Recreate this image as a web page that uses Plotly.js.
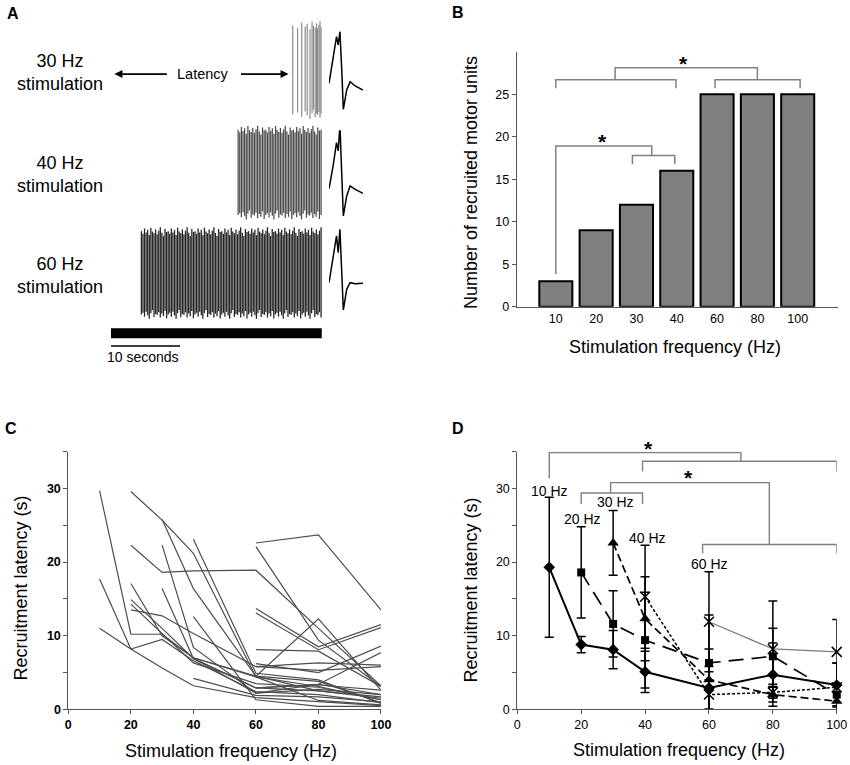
<!DOCTYPE html>
<html>
<head>
<meta charset="utf-8">
<script src="https://cdn.plot.ly/plotly-3.0.1.min.js"></script>
<style>html,body{margin:0;padding:0;background:#fff}#chart{width:850px;height:765px}</style>
</head>
<body>
<div id="chart"></div>
<script>
// ---------------- DATA ----------------
const FONT = "Arial, 'Liberation Sans', sans-serif";

// Panel A: example recordings
const trainLabels = ['30 Hz<br>stimulation', '40 Hz<br>stimulation', '60 Hz<br>stimulation'];
const stimDurationSec = 30.5;
const scaleBarSec = 10;
const spikeTimes30Hz = [26.3, 27.0, 27.6, 28.1, 28.4, 28.8, 29.1, 29.3, 29.55, 29.75, 29.9, 30.1, 30.25, 30.4];
const trainOnsetSec = [26.3, 18.4, 4.4];
const trainEndSec = 30.4;
const trainSpikeCount = [14, 52, 115];
const spikeAmpPattern = [0.96, 0.9, 1.02, 0.93, 0.99, 0.87, 1.04, 0.95, 0.91, 1.0, 0.89, 0.97, 1.05, 0.92, 0.85, 1.01, 0.94];
const waveT = [0, 1.2, 2.2, 2.7, 3.2, 3.7, 4.2, 5.2, 6.2, 7.7, 10];
const wave30 = [0, 0.7, 1.4, 1.15, 1.55, 0.5, -0.78, -0.2, 0.05, -0.08, -0.2];
const wave40 = [0, 0.68, 1.38, 1.13, 1.9, 0.48, -0.82, -0.22, 0.08, -0.02, -0.14];
const wave60 = [0, 0.7, 1.4, 0.9, 1.6, 0.4, -0.82, -0.2, 0, -0.03, -0.02];

// Panel B: number of recruited motor units
const bCategories = ['10', '20', '30', '40', '60', '80', '100'];
const bUnits = [3, 9, 12, 16, 25, 25, 25];

// Panel C: recruitment latency of each motor unit
const cFreqs = [10, 20, 30, 40, 60, 80, 100];
const cRecruitFreq = [10, 10, 10, 20, 20, 20, 20, 20, 20, 30, 30, 30, 40, 40, 40, 40, 60, 60, 60, 60, 60, 60, 60, 60, 60];
const cLatency = [
  [29.7, 10.2, 10.2, 7.0, 4.4, 3.1, 1.3],
  [17.7, 8.2, 9.5, 6.6, 2.4, 2.0, 0.9],
  [11.0, 8.2, 5.6, 3.2, 1.6, 1.0, 0.5],
  [29.6, 25.7, 21.2, 4.4, 1.2, 0.6],
  [22.3, 18.6, 18.8, 18.9, 11.0, 3.2],
  [17.1, 10.0, 7.0, 4.5, 2.5, 1.5],
  [14.9, 11.0, 6.9, 2.9, 3.3, 2.6],
  [14.3, 10.3, 6.3, 3.5, 3.0, 1.3],
  [13.5, 12.7, 10.3, 5.8, 5.3, 5.8],
  [25.8, 16.4, 4.5, 3.8, 0.9],
  [22.3, 8.4, 2.2, 3.4, 2.0],
  [16.4, 6.9, 2.9, 2.5, 1.7],
  [23.1, 4.9, 4.0, 0.8],
  [12.6, 1.3, 0.4, 0.4],
  [6.9, 2.2, 2.7, 2.0],
  [4.2, 1.9, 1.7, 1.0],
  [22.6, 23.7, 13.5],
  [22.1, 9.4, 3.1],
  [13.7, 8.5, 11.5],
  [13.1, 8.1, 11.1],
  [8.1, 7.9, 3.1],
  [4.5, 12.3, 2.6],
  [6.2, 5.0, 8.6],
  [5.8, 6.3, 6.0],
  [2.9, 3.4, 7.7]
];

// Panel D: mean latency (+/- SD) grouped by recruitment frequency
const dGroupLabels = ['10 Hz', '20 Hz', '30 Hz', '40 Hz', '60 Hz'];
const d10X = [10, 20, 30, 40, 60, 80, 100];
const d10Y = [19.3, 8.8, 8.1, 5.1, 2.9, 4.7, 3.3];
const d10E = [9.5, 1.1, 2.6, 2.8, 2.9, 4.3, 3.0];
const d20X = [20, 30, 40, 60, 80, 100];
const d20Y = [18.6, 11.6, 9.4, 6.3, 7.2, 2.0];
const d20E = [6.2, 4.5, 6.5, 6.5, 3.8, 1.5];
const d30X = [30, 40, 60, 80, 100];
const d30Y = [22.6, 12.3, 4.0, 2.0, 1.1];
const d30E = [4.4, 5.7, 4.2, 1.0, 1.2];
const d40X = [40, 60, 80, 100];
const d40Y = [15.3, 2.0, 2.3, 3.0];
const d40E = [7.0, 2.0, 0.8, 3.3];
const d60X = [60, 80, 100];
const d60Y = [11.9, 8.2, 7.8];
const d60E = [6.8, 6.5, 4.4];

// ---------------- TRACES ----------------
const traces = [];
const axisCol = '#555';
const brCol = '#808080';

// Panel A spike trains
const rowCenter = [0, -1.01, -2.0];
const rowHalf = [0.46, 0.44, 0.43];
const rowColor = ['#8c8c8c', '#4a4a4a', '#262626'];
const rowWidth = [1.2, 1.25, 1.3];
for (let r = 0; r < 3; r++) {
  let times = [];
  if (r === 0) times = spikeTimes30Hz;
  else {
    const n = trainSpikeCount[r];
    for (let i = 0; i < n; i++) times.push(trainOnsetSec[r] + (trainEndSec - trainOnsetSec[r]) * i / (n - 1));
  }
  const xs = [], ys = [];
  const L = spikeAmpPattern.length;
  times.forEach((t, i) => {
    xs.push(t, t, null);
    ys.push(rowCenter[r] + rowHalf[r] * spikeAmpPattern[i % L], rowCenter[r] - rowHalf[r] * spikeAmpPattern[(i + 7) % L], null);
  });
  traces.push({type: 'scatter', mode: 'lines', x: xs, y: ys, xaxis: 'x4', yaxis: 'y4',
    line: {color: rowColor[r], width: rowWidth[r]}, hoverinfo: 'skip'});
}
// stimulation bar and scale bar
traces.push({type: 'scatter', mode: 'lines', x: [0, stimDurationSec], y: [-2.594, -2.594], xaxis: 'x4', yaxis: 'y4',
  line: {color: '#000', width: 10}, hoverinfo: 'skip'});
traces.push({type: 'scatter', mode: 'lines', x: [0, scaleBarSec], y: [-2.719, -2.719], xaxis: 'x4', yaxis: 'y4',
  line: {color: '#000', width: 1.5}, hoverinfo: 'skip'});
// waveforms
[[wave30, 'x5', 'y5'], [wave40, 'x6', 'y6'], [wave60, 'x7', 'y7']].forEach(w => {
  traces.push({type: 'scatter', mode: 'lines', x: waveT, y: w[0], xaxis: w[1], yaxis: w[2],
    line: {color: '#000', width: 1.5}, hoverinfo: 'skip'});
});

// Panel B bars
traces.push({type: 'bar', x: bCategories.map((c, i) => i), y: bUnits, width: 0.82, xaxis: 'x', yaxis: 'y',
  marker: {color: '#808080', line: {color: '#000', width: 2}}, hoverinfo: 'y'});
// Panel B brackets
const bBrX = [0, 0, 2.98, 2.98, null, 3.95, 3.95, 6.06, 6.06, null, 1.47, 1.47, 5.0, 5.0, null,
  0, 0, 2.38, 2.38, null, 1.9, 1.9, 2.95, 2.95];
const bBrY = [25.7, 26.7, 26.7, 25.7, null, 25.7, 26.7, 26.7, 25.7, null, 26.7, 28.1, 28.1, 26.7, null,
  3.85, 18.9, 18.9, 17.8, null, 16.75, 17.8, 17.8, 16.75];
traces.push({type: 'scatter', mode: 'lines', x: bBrX, y: bBrY, xaxis: 'x', yaxis: 'y',
  line: {color: brCol, width: 1.5}, hoverinfo: 'skip'});

// Panel C lines
cLatency.forEach((vals, k) => {
  const start = cFreqs.indexOf(cRecruitFreq[k]);
  traces.push({type: 'scatter', mode: 'lines', x: cFreqs.slice(start, start + vals.length), y: vals,
    xaxis: 'x2', yaxis: 'y2', line: {color: '#4d4d4d', width: 1.2}, hoverinfo: 'x+y'});
});

// Panel D brackets
const dBrX = [10, 10, 70, 70, null, 39.2, 39.2, 100, 100, null,
  29.2, 29.2, 78.9, 78.9, null, 20, 20, 39.2, 39.2, null, 58, 58, 100, 100];
const dBrY = [31.4, 34.9, 34.9, 33.7, null, 32.3, 33.7, 33.7, 32.3, null,
  29.4, 30.8, 30.8, 22.4, null, 27.9, 29.4, 29.4, 27.9, null, 21.2, 22.4, 22.4, 21.2];
traces.push({type: 'scatter', mode: 'lines', x: dBrX, y: dBrY, xaxis: 'x3', yaxis: 'y3',
  line: {color: brCol, width: 1.4}, hoverinfo: 'skip', cliponaxis: false});

// Panel D series
function dSeries(x, y, e, lineStyle, marker) {
  return {type: 'scatter', mode: 'lines+markers', x: x, y: y, xaxis: 'x3', yaxis: 'y3',
    error_y: {type: 'data', array: e, visible: true, color: '#000', thickness: 1.5, width: 4.5},
    line: lineStyle, marker: marker, cliponaxis: false};
}
traces.push(dSeries(d60X, d60Y, d60E, {color: '#7a7a7a', width: 1.3},
  {symbol: 'x-thin', size: 10, color: '#000', line: {color: '#000', width: 1.5}}));
traces.push(dSeries(d40X, d40Y, d40E, {color: '#000', width: 1.5, dash: '3px,2px'},
  {symbol: 'x-thin', size: 10, color: '#000', line: {color: '#000', width: 1.5}}));
traces.push(dSeries(d30X, d30Y, d30E, {color: '#000', width: 1.7, dash: '8px,4px'},
  {symbol: 'triangle-up', size: 10, color: '#000'}));
traces.push(dSeries(d20X, d20Y, d20E, {color: '#000', width: 1.7, dash: '15px,8px'},
  {symbol: 'square', size: 8, color: '#000'}));
traces.push(dSeries(d10X, d10Y, d10E, {color: '#000', width: 2},
  {symbol: 'diamond', size: 9, color: '#000'}));

// ---------------- LAYOUT ----------------
function px2paperX(px) { return px / 850; }
function px2paperY(py) { return 1 - py / 765; }

const tickFont = {family: FONT, size: 12.5, color: '#000'};
const yTicks = [0, 5, 10, 15, 20, 25, 30, 35];
const yTickText = ['0', '', '10', '', '20', '', '30', ''];
const xTicksCD = [0, 20, 40, 60, 80, 100];

const annotations = [];
function addText(text, x, y, size, opts) {
  annotations.push(Object.assign({text: text, x: x, y: y, xref: 'paper', yref: 'paper', showarrow: false,
    xanchor: 'center', yanchor: 'middle', font: {family: FONT, size: size, color: '#000'}}, opts || {}));
}
// panel letters
[['A', 12.5, 13.3], ['B', 458.3, 12.5], ['C', 11, 428], ['D', 458.3, 428.7]].forEach(p =>
  addText('<b>' + p[0] + '</b>', px2paperX(p[1]), px2paperY(p[2]), 16));
// axis titles
addText('Number of recruited motor units', px2paperX(471.7), px2paperY(182.3), 18, {textangle: -90});
addText('Stimulation frequency (Hz)', px2paperX(675), px2paperY(346.7), 18);
addText('Recruitment latency (s)', px2paperX(20.5), px2paperY(588), 18, {textangle: -90});
addText('Stimulation frequency (Hz)', px2paperX(230.8), px2paperY(750.7), 18);
addText('Recruitment latency (s)', px2paperX(471.3), px2paperY(590.3), 18, {textangle: -90});
addText('Stimulation frequency (Hz)', px2paperX(678.5), px2paperY(750), 18);

// Panel A labels
trainLabels.forEach((t, r) => {
  annotations.push({text: t, x: -7.4, y: rowCenter[r] - 0.02, xref: 'x4', yref: 'y4', showarrow: false,
    xanchor: 'center', yanchor: 'middle', align: 'center', font: {family: FONT, size: 18, color: '#000'}});
});
annotations.push({text: 'Latency', x: 13.35, y: -0.04, xref: 'x4', yref: 'y4', showarrow: false,
  font: {family: FONT, size: 14.5, color: '#000'}});
annotations.push({text: '', x: 0.5, y: -0.04, ax: 8.3, ay: -0.04, xref: 'x4', yref: 'y4', axref: 'x4', ayref: 'y4',
  showarrow: true, arrowhead: 2, arrowsize: 1, arrowwidth: 1.6, arrowcolor: '#000'});
annotations.push({text: '', x: 25.7, y: -0.04, ax: 18.6, ay: -0.04, xref: 'x4', yref: 'y4', axref: 'x4', ayref: 'y4',
  showarrow: true, arrowhead: 2, arrowsize: 1, arrowwidth: 1.6, arrowcolor: '#000'});
annotations.push({text: '10 seconds', x: 4.6, y: -2.825, xref: 'x4', yref: 'y4', showarrow: false,
  font: {family: FONT, size: 14, color: '#000'}});

// significance stars (paper coordinates so none is hidden above an axis range)
[[683.3, 58.3], [602.7, 136.7], [648.7, 443.3], [688.3, 472.7]].forEach(s => {
  annotations.push({text: '<b>*</b>', x: px2paperX(s[0]), y: px2paperY(s[1]), xref: 'paper', yref: 'paper',
    showarrow: false, xanchor: 'center', yanchor: 'middle', yshift: -5,
    font: {family: FONT, size: 21, color: '#000'}});
});
// Panel D group labels
const dLabelPos = [[10, 29.7], [20.5, 25.8], [30.8, 28.2], [40.9, 23.3], [60.1, 19.8]];
dGroupLabels.forEach((t, i) => {
  annotations.push({text: t, x: dLabelPos[i][0], y: dLabelPos[i][1], xref: 'x3', yref: 'y3', showarrow: false,
    font: {family: FONT, size: 14, color: '#000'}});
});

const hidden = {visible: false, showgrid: false, zeroline: false, fixedrange: true};
const layout = {
  width: 850, height: 765, margin: {l: 0, r: 0, t: 0, b: 0},
  paper_bgcolor: '#fff', plot_bgcolor: 'rgba(0,0,0,0)', showlegend: false,
  font: {family: FONT, color: '#000'},
  // Panel B
  xaxis: {domain: [0.6079, 0.9859], anchor: 'y', range: [-0.97, 7.0], tickvals: bCategories.map((c, i) => i),
    ticktext: bCategories, showline: true, linecolor: axisCol, linewidth: 1, ticks: '', showgrid: false,
    zeroline: false, tickfont: tickFont},
  yaxis: {domain: [0.5991, 0.9324], anchor: 'x', range: [0, 30], tickvals: [0, 5, 10, 15, 20, 25],
    showline: true, linecolor: axisCol, linewidth: 1, ticks: 'outside', ticklen: 4, tickcolor: axisCol,
    showgrid: false, zeroline: false, tickfont: tickFont},
  // Panel C
  xaxis2: {domain: [0.0804, 0.4482], anchor: 'y2', range: [0, 100], tickvals: xTicksCD, showline: true,
    linecolor: axisCol, linewidth: 1, ticks: 'outside', ticklen: 4, tickcolor: axisCol, showgrid: false,
    zeroline: false, tickfont: Object.assign({}, tickFont, {weight: 'bold'})},
  yaxis2: {domain: [0.0728, 0.4095], anchor: 'x2', range: [0, 35], tickvals: yTicks, ticktext: yTickText,
    showline: true, linecolor: axisCol, linewidth: 1, ticks: 'outside', ticklen: 4, tickcolor: axisCol,
    showgrid: false, zeroline: false, tickfont: Object.assign({}, tickFont, {weight: 'bold'})},
  // Panel D
  xaxis3: {domain: [0.6086, 0.9844], anchor: 'y3', range: [0, 100], tickvals: xTicksCD, showline: true,
    linecolor: axisCol, linewidth: 1, ticks: 'outside', ticklen: 4, tickcolor: axisCol, showgrid: false,
    zeroline: false, tickfont: tickFont},
  yaxis3: {domain: [0.0728, 0.4095], anchor: 'x3', range: [0, 35], tickvals: yTicks, ticktext: yTickText,
    showline: true, linecolor: axisCol, linewidth: 1, ticks: 'outside', ticklen: 4, tickcolor: axisCol,
    showgrid: false, zeroline: false, tickfont: tickFont},
  // Panel A
  xaxis4: Object.assign({domain: [0, 0.5], anchor: 'y4', range: [-16.06, 45.44]}, hidden),
  yaxis4: Object.assign({domain: [0.5229, 1], anchor: 'x4', range: [-2.906, 0.690]}, hidden),
  xaxis5: Object.assign({domain: [0.3871, 0.4271], anchor: 'y5', range: [0, 10]}, hidden),
  yaxis5: Object.assign({domain: [0.8497, 0.9673], anchor: 'x5', range: [-0.95, 1.75]}, hidden),
  xaxis6: Object.assign({domain: [0.3871, 0.4271], anchor: 'y6', range: [0, 10]}, hidden),
  yaxis6: Object.assign({domain: [0.7120, 0.8297], anchor: 'x6', range: [-0.95, 1.75]}, hidden),
  xaxis7: Object.assign({domain: [0.3871, 0.4271], anchor: 'y7', range: [0, 10]}, hidden),
  yaxis7: Object.assign({domain: [0.5891, 0.7068], anchor: 'x7', range: [-0.95, 1.75]}, hidden),
  annotations: annotations
};

Plotly.newPlot('chart', traces, layout, {displayModeBar: false, staticPlot: true});
</script>
</body>
</html>
